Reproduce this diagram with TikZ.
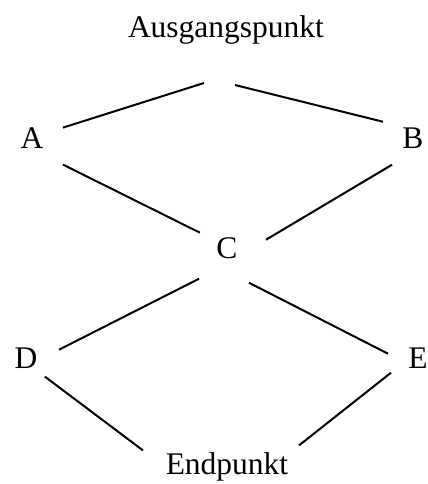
\documentclass[tikz,border=0pt]{standalone}
\usepackage{fontspec}
\setmainfont{Liberation Serif}
\usepackage{tikz}
\usetikzlibrary{calc}

\begin{document}
\begin{tikzpicture}[
    x=0.5pt, y=-0.5pt,
    font=\fontsize{15.75}{18}\selectfont,
    lbl/.style={anchor=base, inner sep=0pt},
    conn/.style={line width=1pt, black}
  ]
    \useasboundingbox (0,0) rectangle (428,484);
    % labels
    \node[lbl] (start) at (226,37) {Ausgangspunkt};
    \coordinate (top) at (220,84);
    \node[lbl] (A) at (32,148) {A};
    \node[lbl] (B) at (413,148) {B};
    \node[lbl] (C) at (227,258) {C};
    \node[lbl] (D) at (26,368) {D};
    \node[lbl] (E) at (418,368) {E};
    \node[lbl] (end) at (227,474) {Endpunkt};
    % connectors
    \draw[conn] ($(top)+(-16,-1)$) -- ($(A)+(31,-10)$);
    \draw[conn] ($(top)+(15,1)$) -- ($(B)+(-30,-16)$);
    \draw[conn] ($(A)+(31,27)$) -- ($(C)+(-27,-15)$);
    \draw[conn] ($(B)+(-21,27)$) -- ($(C)+(39,-8)$);
    \draw[conn] ($(C)+(-28,31)$) -- ($(D)+(33,-8)$);
    \draw[conn] ($(C)+(22,35)$) -- ($(E)+(-30,-4)$);
    \draw[conn] ($(D)+(19,19)$) -- ($(end)+(-84,-16)$);
    \draw[conn] ($(E)+(-27,15)$) -- ($(end)+(72,-21)$);
\end{tikzpicture}
\end{document}
